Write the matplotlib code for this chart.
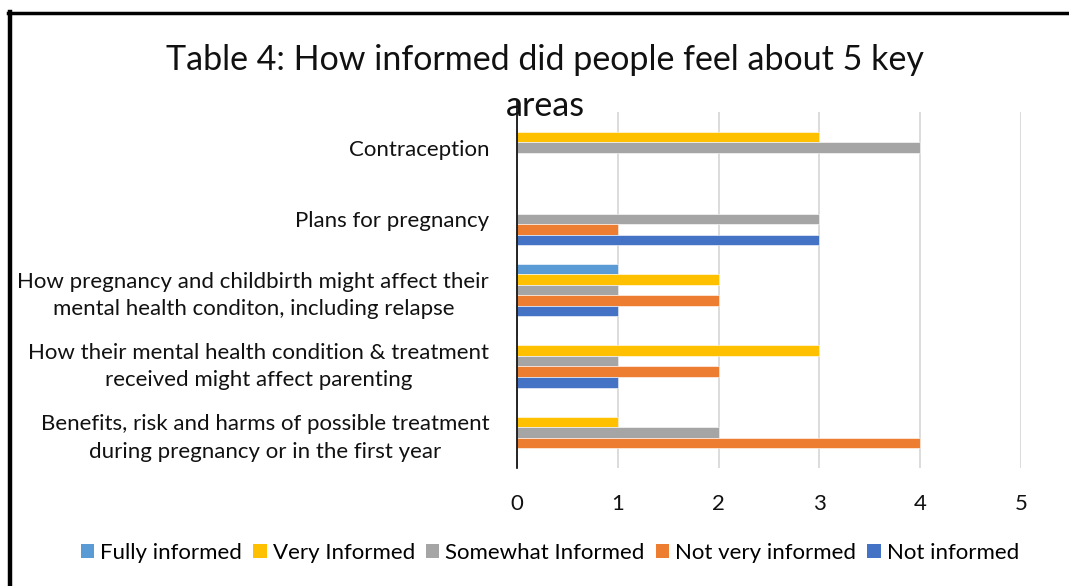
import matplotlib
matplotlib.use("Agg")
import matplotlib.pyplot as plt
from matplotlib.patches import Patch
from matplotlib.lines import Line2D
import numpy as np

plt.rcParams['font.family'] = ['Lato', 'DejaVu Sans']

categories = [
    "Contraception",
    "Plans for pregnancy",
    "How pregnancy and childbirth might affect their\nmental health conditon, including relapse",
    "How their mental health condition & treatment\nreceived might affect parenting",
    "Benefits, risk and harms of possible treatment\nduring pregnancy or in the first year",
]
series_names = ["Fully informed", "Very Informed", "Somewhat Informed",
                "Not very informed", "Not informed"]
fully_informed = [0, 0, 1, 0, 0]
very_informed = [3, 0, 2, 3, 1]
somewhat_informed = [4, 3, 1, 1, 2]
not_very_informed = [0, 1, 2, 2, 4]
not_informed = [0, 3, 1, 1, 0]
series_values = [fully_informed, very_informed, somewhat_informed,
                 not_very_informed, not_informed]
colors = ["#5B9BD5", "#FFC000", "#A5A5A5", "#ED7D31", "#4472C4"]
x_ticks = [0, 1, 2, 3, 4, 5]

W, H = 1069, 586
fig = plt.figure(figsize=(W / 100, H / 100), dpi=100)
ax = fig.add_axes([517 / W, 1 - 468 / H, (1021 - 517) / W, (468 - 112) / H])

pos = np.arange(len(categories))
bar_h = 0.148
for j, (vals, col) in enumerate(zip(series_values, colors)):
    ax.barh(pos + (j - 2) * bar_h, vals, height=bar_h, color=col,
            edgecolor="white", linewidth=0.4, zorder=3)

ax.set_xlim(0, 5)
ax.set_ylim(len(categories) - 0.5, -0.5)
ax.set_xticks(x_ticks)
ax.set_xticklabels([str(t) for t in x_ticks])
ax.set_yticks(pos)
ax.set_yticklabels(categories)
for lbl in ax.get_yticklabels():
    lbl.set_multialignment("center")
    lbl.set_linespacing(1.45)
ax.tick_params(axis="both", length=0, labelsize=16, colors="#111111")
ax.tick_params(axis="x", pad=19)
ax.tick_params(axis="y", pad=20)
ax.grid(axis="x", color="#D9D9D9", linewidth=1.3, zorder=0)
for s in ax.spines.values():
    s.set_visible(False)
ax.axvline(0, ymin=0, ymax=1.03, color="black", linewidth=1.2,
           clip_on=False, zorder=4)

fig.text(545 / W, 1 - 83 / H,
         "Table 4: How informed did people feel about 5 key\nareas",
         ha="center", va="center", fontsize=24.5, linespacing=1.5,
         color="#111111")

handles = [Patch(facecolor=c, edgecolor="none") for c in colors]
fig.legend(handles, series_names, loc="center", ncol=5,
           bbox_to_anchor=(550 / W, 1 - 553 / H), frameon=False,
           fontsize=16, handlelength=0.6, handleheight=0.6,
           handletextpad=0.27, columnspacing=0.5)

# outer frame: top and left edges
fig.add_artist(Line2D([8 / W, 1], [1 - 13 / H, 1 - 13 / H],
                      transform=fig.transFigure, color="black", linewidth=2.5))
fig.add_artist(Line2D([10 / W, 10 / W], [0, 1 - 12 / H],
                      transform=fig.transFigure, color="black", linewidth=3.2))

fig.savefig("out.png", dpi=100, facecolor="white")
